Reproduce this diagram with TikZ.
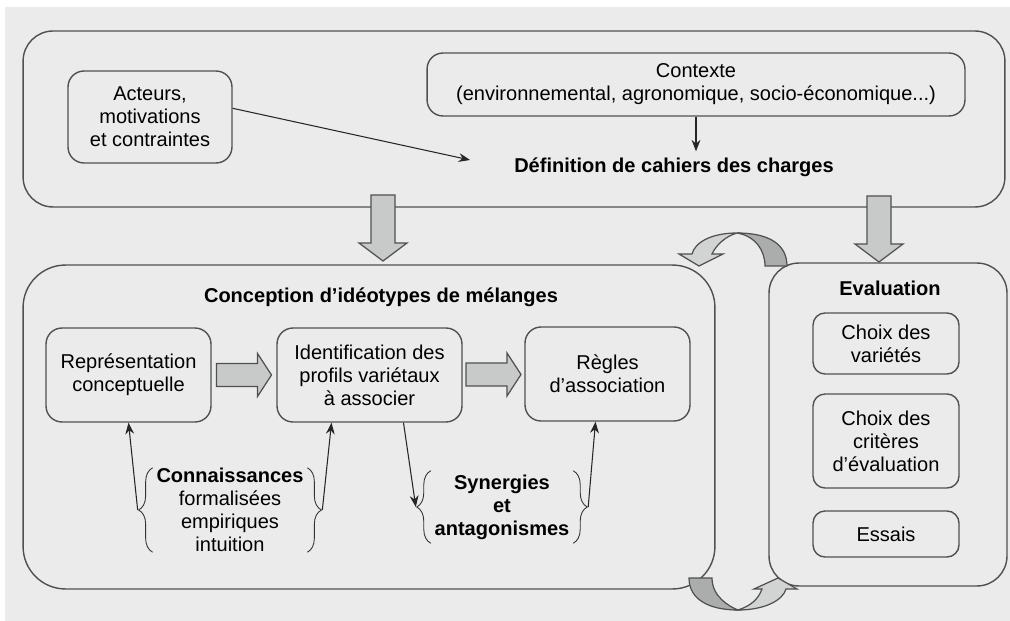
\documentclass[tikz,border=0pt]{standalone}
\usepackage{fontspec}
\setmainfont{Liberation Sans}
\usepackage{tikz}
\usetikzlibrary{arrows.meta, calc, decorations.pathreplacing}
\definecolor{bgcol}{HTML}{EAEBEA}
\definecolor{linecol}{HTML}{505050}
\definecolor{arrowfill}{HTML}{C8C9C9}
\definecolor{darkband}{HTML}{ABACAC}
\definecolor{lightband}{HTML}{D2D3D3}

\begin{document}
\begin{tikzpicture}[
    x=0.02cm, y=-0.02cm,
    every node/.style={font=\fontsize{11.4}{13.1}\selectfont, align=center},
    title/.style={font=\fontsize{11.4}{13.1}\selectfont\bfseries},
    box/.style={draw=linecol, line width=0.8pt, rounded corners=0.32cm},
    bigbox/.style={draw=linecol, line width=0.8pt, rounded corners=0.7cm},
    link/.style={-{Stealth[length=6.5pt,width=5pt]}, line width=0.6pt, draw=black!85},
    brc/.style={decorate, decoration={brace, amplitude=8pt}, line width=0.5pt, draw=black!80},
    blk/.style={draw=linecol, fill=arrowfill, line width=0.7pt, line join=miter},
    rarrow/.pic={\filldraw[blk] (-27.5,-11.5) -- (13.5,-11.5) -- (13.5,-21.5) -- (27.5,0)
        -- (13.5,21.5) -- (13.5,11.5) -- (-27.5,11.5) -- cycle;},
    darrow/.pic={\filldraw[blk] (-12,-33) -- (12,-33) -- (12,15) -- (24,15) -- (0,33)
        -- (-24,15) -- (-12,15) -- cycle;}
]
% Background
\useasboundingbox (0,0) rectangle (1010,621);
\fill[bgcol] (5,7) rectangle (1010,621);

% Top frame
\node[bigbox, rounded corners=0.6cm, minimum width=19.64cm, minimum height=3.52cm] (cadre) at (514,119) {};
\node[box, minimum width=3.28cm, minimum height=1.84cm] (acteurs) at (150,117) {Acteurs,\\motivations\\et contraintes};
\node[box, minimum width=10.76cm, minimum height=1.26cm] (contexte) at (696,84.5) {Contexte\\(environnemental, agronomique, socio-économique...)};
\node[title] (cahier) at (674,167) {Définition de cahiers des charges};
\coordinate (cible) at ($(cahier.west)+(-38,-7)$);
\draw[link] (acteurs.6) -- (cible);
\draw[link] (contexte.south) -- (contexte.south |- cahier.north);

% Conception
\node[bigbox, rounded corners=0.85cm, minimum width=13.84cm, minimum height=6.48cm] (concep) at (369,427) {};
\node[title] (tconc) at (381,297) {Conception d’idéotypes de mélanges};
\node[box, minimum width=3.3cm, minimum height=1.88cm] (repr) at (128.5,375) {Représentation\\conceptuelle};
\node[box, minimum width=3.7cm, minimum height=1.88cm] (ident) at (369.5,375) {Identification des\\profils variétaux\\à associer};
\node[box, minimum width=3.3cm, minimum height=1.88cm] (regles) at (607.5,374) {Règles\\d’association};
\pic at ($(repr.east)!0.5!(ident.west)$) {rarrow};
\pic at ($(ident.east)!0.5!(regles.west)$) {rarrow};

% Braces
\node[inner xsep=2pt, inner ysep=0pt] (savoirs) at (230,510) {\textbf{Connaissances}\\formalisées\\empiriques\\intuition};
\draw[brc] (savoirs.south west) -- (savoirs.north west);
\draw[brc] (savoirs.north east) -- (savoirs.south east);
\coordinate (savL) at ($(savoirs.west)+(-15,0)$);
\coordinate (savR) at ($(savoirs.east)+(15,0)$);
\node[title, inner xsep=2pt, inner ysep=2pt] (synerg) at (502,507) {Synergies\\et\\antagonismes};
\draw[brc] (synerg.south west) -- (synerg.north west);
\draw[brc] (synerg.north east) -- (synerg.south east);
\coordinate (synL) at ($(synerg.west)+(-15,0)$);
\coordinate (synR) at ($(synerg.east)+(15,0)$);
\draw[link] (savL) -- (repr.south);
\draw[link] (savR) -- ($(ident.south)+(-38,0)$);
\draw[link] ($(ident.south)+(34,0)$) -- (synL);
\draw[link] (synR) -- ($(regles.south)+(-12,0)$);

% Evaluation
\node[bigbox, rounded corners=0.6cm, minimum width=4.76cm, minimum height=6.46cm] (evalbox) at (888,424.5) {};
\node[title] (teval) at (890,288) {Evaluation};
\node[box, rounded corners=0.24cm, minimum width=2.92cm, minimum height=1.22cm] (varietes) at (886,343.5) {Choix des\\variétés};
\node[box, rounded corners=0.24cm, minimum width=2.92cm, minimum height=1.88cm] (criteres) at (886,441) {Choix des\\critères\\d’évaluation};
\node[box, rounded corners=0.24cm, minimum width=2.92cm, minimum height=0.92cm] (essais) at (886,534) {Essais};

% Big arrows
\pic at (383,228) {darrow};
\pic at (879,229) {darrow};

% Loop arrows
\filldraw[blk, fill=darkband] (765,266) .. controls (765,250) and (755,236) .. (737,233)
    .. controls (770,233) and (787,245) .. (787,266) -- cycle;
\filldraw[blk, fill=lightband] (737,233) .. controls (712,233) and (695,242) .. (692,254)
    -- (679,254) -- (699,266) -- (723,254) -- (712,254)
    .. controls (716,245) and (726,236) .. (737,233) -- cycle;
\filldraw[blk, fill=darkband] (689,578) .. controls (689,600) and (710,610) .. (738,610)
    .. controls (728,606) and (712,596) .. (712,578) -- cycle;
\filldraw[blk, fill=lightband] (738,610) .. controls (765,610) and (783,600) .. (786,589)
    -- (797,589) -- (778,578) -- (754,589) -- (762,589)
    .. controls (758,600) and (750,606) .. (738,610) -- cycle;
\end{tikzpicture}
\end{document}
